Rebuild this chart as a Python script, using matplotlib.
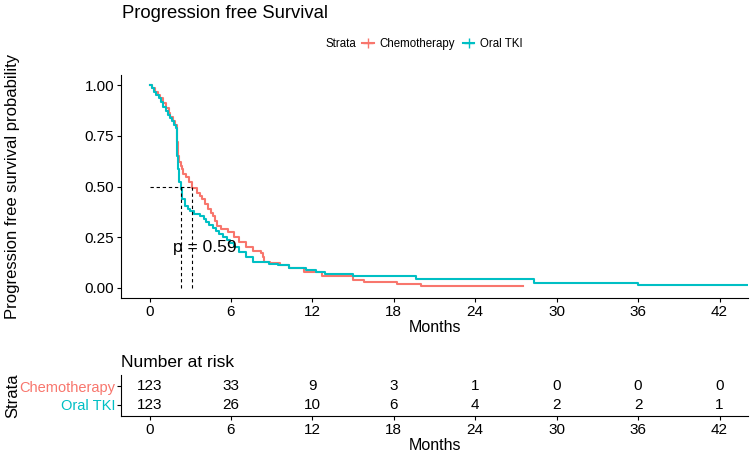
import numpy as np
import matplotlib
matplotlib.use("Agg")
import matplotlib.pyplot as plt
from matplotlib.lines import Line2D

plt.rcParams['font.family'] = ['Liberation Sans', 'DejaVu Sans']

# Kaplan-Meier step points (time in months, survival after the step)
chemo_time = [0, 0.2, 0.4, 0.6, 0.8, 1.0, 1.2, 1.4, 1.5, 1.7, 1.85, 2.0, 2.05, 2.1, 2.2, 2.3,
              2.4, 2.5, 2.7, 2.9, 3.15, 3.5, 3.7, 3.9, 4.1, 4.3, 4.5, 4.65, 4.8, 5.0, 5.3,
              5.8, 6.2, 6.6, 7.1, 7.6, 8.2, 8.35, 8.45, 8.9, 9.6, 10.3, 11.4, 12.7, 15.0,
              15.8, 18.2, 20.0]
chemo_surv = [1.0, 0.984, 0.967, 0.951, 0.935, 0.91, 0.886, 0.862, 0.845, 0.821, 0.805, 0.78,
              0.72, 0.65, 0.62, 0.60, 0.585, 0.56, 0.545, 0.52, 0.495, 0.47, 0.455, 0.438,
              0.415, 0.39, 0.37, 0.356, 0.33, 0.307, 0.29, 0.275, 0.25, 0.225, 0.20, 0.184,
              0.17, 0.152, 0.13, 0.122, 0.113, 0.10, 0.08, 0.06, 0.04, 0.03, 0.02, 0.011]
chemo_end = 27.5

tki_time = [0, 0.15, 0.3, 0.5, 0.7, 0.85, 1.0, 1.2, 1.35, 1.5, 1.65, 1.8, 1.92, 2.0, 2.05,
            2.1, 2.2, 2.3, 2.4, 2.6, 2.8, 3.0, 3.3, 3.7, 4.0, 4.15, 4.4, 4.65, 4.9, 5.1,
            5.4, 5.7, 5.9, 6.2, 6.6, 7.1, 7.6, 8.8, 9.5, 10.3, 11.5, 12.3, 12.9, 15.0,
            19.6, 28.3, 36.0]
tki_surv = [1.0, 0.984, 0.967, 0.951, 0.935, 0.919, 0.894, 0.870, 0.854, 0.837, 0.821, 0.805,
            0.789, 0.732, 0.65, 0.585, 0.52, 0.487, 0.44, 0.405, 0.39, 0.38, 0.364, 0.356,
            0.34, 0.325, 0.31, 0.295, 0.28, 0.266, 0.25, 0.235, 0.22, 0.20, 0.176, 0.152,
            0.13, 0.119, 0.111, 0.098, 0.086, 0.076, 0.07, 0.057, 0.042, 0.026, 0.015]
tki_end = 44.0

strata = ["Chemotherapy", "Oral TKI"]
colors = ["#F8766D", "#00BFC4"]
risk_times = [0, 6, 12, 18, 24, 30, 36, 42]
risk_chemo = [123, 33, 9, 3, 1, 0, 0, 0]
risk_tki = [123, 26, 10, 6, 4, 2, 2, 1]
p_text = "p = 0.59"

fig = plt.figure(figsize=(7.5, 4.57), dpi=100)
ax = fig.add_axes([121/750, 1-298/457, 627/750, 223/457])
ax_r = fig.add_axes([121/750, 1-416/457, 627/750, 41/457])

xlim = (-2.1, 44.1)

curves = [(chemo_time, chemo_surv, chemo_end), (tki_time, tki_surv, tki_end)]
medians = []
for (t, s, end), col in zip(curves, colors):
    tt = list(t) + [end]
    ss = list(s) + [s[-1]]
    ax.step(tt, ss, where='post', color=col, lw=1.5)
    # median = first time survival <= 0.5
    med = next(ti for ti, si in zip(t, s) if si <= 0.5)
    medians.append(med)

# median lines
ax.plot([0, max(medians)], [0.5, 0.5], ls=(0, (3, 2.5)), color='black', lw=0.8)
for m in medians:
    ax.plot([m, m], [0, 0.5], ls=(0, (3, 2.5)), color='black', lw=0.8)

ax.text(1.7, 0.2, p_text, fontsize=12.5, ha='left', va='center')

ax.set_xlim(*xlim)
ax.set_ylim(-0.05, 1.05)
ax.set_xticks(risk_times)
ax.set_yticks([0, 0.25, 0.5, 0.75, 1.0])
ax.set_yticklabels(["0.00", "0.25", "0.50", "0.75", "1.00"])
for sp in ['top', 'right']:
    ax.spines[sp].set_visible(False)
ax.tick_params(labelsize=11, length=3, width=0.8, pad=2)
ax.set_xlabel("Months", fontsize=11.5, labelpad=1)
ax.set_ylabel("Progression free survival probability", fontsize=12)
ax.yaxis.set_label_coords((20 - 121) / 627, 0.5)

fig.text(122/750, 1-13/457, "Progression free Survival", fontsize=13.3, ha='left', va='center')

# legend
fig.text(325/750, 1-44/457, "Strata", fontsize=8.3, ha='left', va='center')
handles = [Line2D([], [], color=c, lw=1.5, marker='+', markersize=7) for c in colors]
fig.legend(handles, strata, loc='center left', bbox_to_anchor=(362/750, 1-44/457),
           ncol=2, frameon=False, fontsize=8.3, handlelength=1.0, columnspacing=0.7,
           handletextpad=0.5, borderaxespad=0, borderpad=0)

# risk table
for yv, vals in zip([2, 1], [risk_chemo, risk_tki]):
    for xt, v in zip(risk_times, vals):
        ax_r.text(xt, yv, str(v), fontsize=11, ha='center', va='center')
ax_r.set_xlim(*xlim)
ax_r.set_ylim(0.4, 2.6)
ax_r.set_xticks(risk_times)
ax_r.set_yticks([2, 1])
ax_r.set_yticklabels(strata)
for lab, c in zip(ax_r.get_yticklabels(), colors):
    lab.set_color(c)
for sp in ['top', 'right']:
    ax_r.spines[sp].set_visible(False)
ax_r.tick_params(axis='x', labelsize=11, length=3, width=0.8, pad=2)
ax_r.tick_params(axis='y', labelsize=10.5, length=3, width=0.8, pad=1)
ax_r.set_xlabel("Months", fontsize=11.5, labelpad=1)
ax_r.set_ylabel("Strata", fontsize=12)
ax_r.yaxis.set_label_coords((20 - 121) / 627, 0.5)
ax_r.set_title("Number at risk", fontsize=12.5, loc='left', pad=6)

fig.savefig("out.png", dpi=100)
